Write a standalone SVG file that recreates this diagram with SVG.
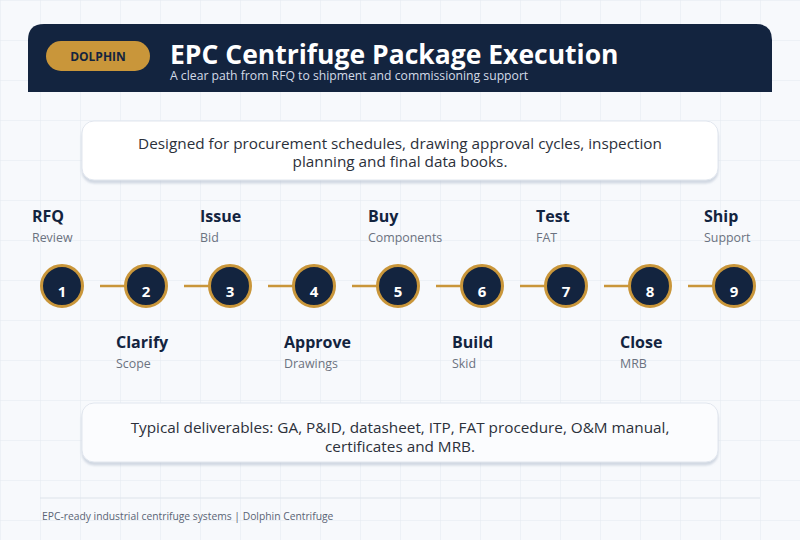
<svg xmlns="http://www.w3.org/2000/svg" width="800" height="540" viewBox="0 0 800 540">
  <defs>
    <pattern id="grid" x="0" y="0" width="40" height="40" patternUnits="userSpaceOnUse">
      <path d="M40 0 H0 V40" fill="none" stroke="#e4e9f0" stroke-width="1"/>
    </pattern>
    <filter id="sh" x="-5%" y="-20%" width="110%" height="150%">
      <feDropShadow dx="0" dy="3" stdDeviation="1.2" flood-color="#b8c2d2" flood-opacity="0.6"/>
    </filter>
  </defs>
  <style>
    .t { font-family: "Open Sans", "Noto Sans", "DejaVu Sans", sans-serif; }
    .step-c { fill: #13243f; stroke: #c9963a; stroke-width: 3; }
    .step-n { fill: #ffffff; font-size: 15px; font-weight: 700; text-anchor: middle; }
    .lbl { fill: #13243f; font-size: 16px; font-weight: 700; }
    .sub { fill: #6b7280; font-size: 12.4px; }
    .conn { stroke: #c9963a; stroke-width: 2.5; fill: none; }
    .card-t { fill: #2b303a; font-size: 15.3px; text-anchor: middle; }
  </style>
  <rect width="800" height="540" fill="#f7f9fc"/>
  <rect width="800" height="540" fill="url(#grid)"/>

  <g id="header">
    <path d="M28 92 V40 Q28 24 44 24 H756 Q772 24 772 40 V92 Z" fill="#13243f"/>
    <rect x="46" y="41" width="104" height="30" rx="15" fill="#c9963a"/>
    <text class="t" x="98" y="61" font-size="12" font-weight="700" fill="#13243f" text-anchor="middle">DOLPHIN</text>
    <text class="t" x="170" y="64" font-size="26.5" font-weight="700" fill="#ffffff">EPC Centrifuge Package Execution</text>
    <text class="t" x="170" y="79.5" font-size="12.2" fill="#d3dbe7">A clear path from RFQ to shipment and commissioning support</text>
  </g>

  <g id="intro-card">
    <rect x="82" y="121" width="636" height="59" rx="12" fill="#ffffff" stroke="#e1e6ee" filter="url(#sh)"/>
    <text class="t card-t" x="400" y="148.5">Designed for procurement schedules, drawing approval cycles, inspection</text>
    <text class="t card-t" x="400" y="167">planning and final data books.</text>
  </g>

  <g id="connectors">
    <line class="conn" x1="100" y1="286" x2="130" y2="286"/>
    <line class="conn" x1="184" y1="286" x2="214" y2="286"/>
    <line class="conn" x1="268" y1="286" x2="298" y2="286"/>
    <line class="conn" x1="352" y1="286" x2="382" y2="286"/>
    <line class="conn" x1="436" y1="286" x2="466" y2="286"/>
    <line class="conn" x1="520" y1="286" x2="550" y2="286"/>
    <line class="conn" x1="604" y1="286" x2="634" y2="286"/>
    <line class="conn" x1="688" y1="286" x2="718" y2="286"/>
  </g>

  <g id="step-1">
    <circle class="step-c" cx="62" cy="286" r="20.5"/>
    <text class="t step-n" x="62" y="297">1</text>
    <text class="t lbl" x="32" y="222">RFQ</text>
    <text class="t sub" x="32" y="242">Review</text>
  </g>
  <g id="step-2">
    <circle class="step-c" cx="146" cy="286" r="20.5"/>
    <text class="t step-n" x="146" y="297">2</text>
    <text class="t lbl" x="116" y="348">Clarify</text>
    <text class="t sub" x="116" y="368">Scope</text>
  </g>
  <g id="step-3">
    <circle class="step-c" cx="230" cy="286" r="20.5"/>
    <text class="t step-n" x="230" y="297">3</text>
    <text class="t lbl" x="200" y="222">Issue</text>
    <text class="t sub" x="200" y="242">Bid</text>
  </g>
  <g id="step-4">
    <circle class="step-c" cx="314" cy="286" r="20.5"/>
    <text class="t step-n" x="314" y="297">4</text>
    <text class="t lbl" x="284" y="348">Approve</text>
    <text class="t sub" x="284" y="368">Drawings</text>
  </g>
  <g id="step-5">
    <circle class="step-c" cx="398" cy="286" r="20.5"/>
    <text class="t step-n" x="398" y="297">5</text>
    <text class="t lbl" x="368" y="222">Buy</text>
    <text class="t sub" x="368" y="242">Components</text>
  </g>
  <g id="step-6">
    <circle class="step-c" cx="482" cy="286" r="20.5"/>
    <text class="t step-n" x="482" y="297">6</text>
    <text class="t lbl" x="452" y="348">Build</text>
    <text class="t sub" x="452" y="368">Skid</text>
  </g>
  <g id="step-7">
    <circle class="step-c" cx="566" cy="286" r="20.5"/>
    <text class="t step-n" x="566" y="297">7</text>
    <text class="t lbl" x="536" y="222">Test</text>
    <text class="t sub" x="536" y="242">FAT</text>
  </g>
  <g id="step-8">
    <circle class="step-c" cx="650" cy="286" r="20.5"/>
    <text class="t step-n" x="650" y="297">8</text>
    <text class="t lbl" x="620" y="348">Close</text>
    <text class="t sub" x="620" y="368">MRB</text>
  </g>
  <g id="step-9">
    <circle class="step-c" cx="734" cy="286" r="20.5"/>
    <text class="t step-n" x="734" y="297">9</text>
    <text class="t lbl" x="704" y="222">Ship</text>
    <text class="t sub" x="704" y="242">Support</text>
  </g>

  <g id="deliverables-card">
    <rect x="82" y="403" width="636" height="59" rx="12" fill="#fbfcfe" stroke="#e1e6ee" filter="url(#sh)"/>
    <text class="t card-t" x="400" y="432.5">Typical deliverables: GA, P&amp;ID, datasheet, ITP, FAT procedure, O&amp;M manual,</text>
    <text class="t card-t" x="400" y="451.5">certificates and MRB.</text>
  </g>

  <g id="footer">
    <line x1="40" y1="498" x2="760" y2="498" stroke="#dde3ea" stroke-width="1"/>
    <text class="t" x="42" y="520" font-size="10.3" fill="#5a6475">EPC-ready industrial centrifuge systems | Dolphin Centrifuge</text>
  </g>
</svg>
